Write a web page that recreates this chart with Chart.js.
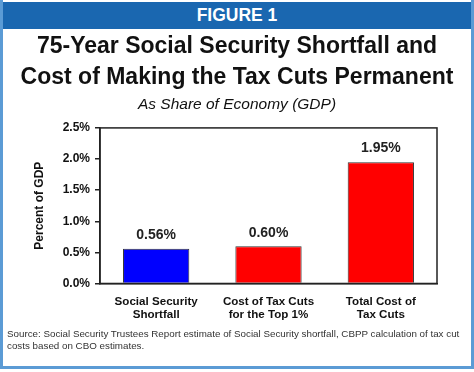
<!DOCTYPE html>
<html><head><meta charset="utf-8">
<script src="https://cdn.jsdelivr.net/npm/chart.js@4"></script>
<style>
html,body{margin:0;padding:0;background:#fff;}
#wrap{position:relative;width:474px;height:372px;overflow:hidden;background:#fff;font-family:"Liberation Sans",Arial,sans-serif;}
#frame{position:absolute;left:0;top:0;width:468px;height:366px;border:3px solid #5b9bd5;border-top:none;box-sizing:content-box;pointer-events:none;}
#head{position:absolute;left:0;top:2px;width:474px;height:27px;background:#1a67b0;color:#fff;font-weight:bold;font-size:17.5px;line-height:27px;text-align:center;}
#src{position:absolute;left:7px;top:328px;width:464px;font-size:9.8px;line-height:12px;color:#333;}
canvas{position:absolute;left:0;top:0;}
</style></head>
<body><div id="wrap">
<canvas id="c" width="474" height="372"></canvas>
<div id="head">FIGURE 1</div>
<div id="src">Source: Social Security Trustees Report estimate of Social Security shortfall, CBPP calculation of tax cut costs based on CBO estimates.</div>
<div id="frame"></div>
</div>
<script>
const categories = [["Social Security","Shortfall"],["Cost of Tax Cuts","for the Top 1%"],["Total Cost of","Tax Cuts"]];
const values = [0.56, 0.60, 1.95];
const valueLabels = ["0.56%","0.60%","1.95%"];
const barColors = ["#0000ff","#ff0000","#ff0000"];
const titleLines = ["75-Year Social Security Shortfall and","Cost of Making the Tax Cuts Permanent"];
const subtitleText = "As Share of Economy (GDP)";
const yTitle = "Percent of GDP";
const FONT = "'Liberation Sans', Arial, sans-serif";

const boxPlugin = {
  id:'box',
  afterDatasetsDraw(chart){
    const {ctx, chartArea:a} = chart;
    ctx.save();
    ctx.strokeStyle='#222'; ctx.lineWidth=1.5;
    ctx.strokeRect(a.left, a.top, a.right-a.left, a.bottom-a.top);
    ctx.restore();
  }
};
const labelPlugin = {
  id:'vlabels',
  afterDatasetsDraw(chart){
    const {ctx} = chart;
    const meta = chart.getDatasetMeta(0);
    ctx.save();
    ctx.font = "bold 14px " + FONT;
    ctx.fillStyle = '#222';
    ctx.textAlign='center'; ctx.textBaseline='middle';
    meta.data.forEach((bar,i)=>{ ctx.fillText(valueLabels[i], bar.x, bar.y-13.5); });
    ctx.restore();
  }
};

new Chart(document.getElementById('c'), {
  type:'bar',
  data:{labels:categories, datasets:[{data:values, backgroundColor:barColors, borderColor:'#333', borderWidth:1, barPercentage:0.59, categoryPercentage:1.0}]},
  options:{
    responsive:false, animation:false,
    layout:{padding:{left:0,right:0,top:31.5,bottom:47}},
    plugins:{
      legend:{display:false}, tooltip:{enabled:false},
      title:{display:true, text:titleLines, color:'#111', font:{family:FONT,size:23,weight:'bold',lineHeight:1.348}, padding:{top:0,bottom:0}},
      subtitle:{display:true, text:subtitleText, color:'#111', font:{family:FONT,size:15.5,style:'italic',lineHeight:1.2}, padding:{top:2.2,bottom:13.6}}
    },
    scales:{
      x:{grid:{display:false}, border:{display:true,color:'#222',width:1.5},
         ticks:{color:'#111', font:{family:FONT,size:11.6,weight:'bold',lineHeight:1.1}, padding:4, maxRotation:0}},
      y:{min:0,max:2.5, grid:{display:true,drawOnChartArea:false,drawTicks:true,tickLength:5,color:'#222',lineWidth:1.5},
         border:{display:true,color:'#222',width:1.5},
         ticks:{stepSize:0.5, color:'#111', padding:5, font:{family:FONT,size:12,weight:'bold'}, callback:v=>v.toFixed(1)+'%'},
         title:{display:true,text:yTitle,color:'#111',font:{family:FONT,size:12,weight:'bold'},padding:{top:32.8,bottom:0}},
         afterFit:s=>{s.width=100;}},
      yR:{position:'right', display:true, grid:{display:false}, border:{display:false}, ticks:{display:false},
         afterFit:s=>{s.width=37;}}
    }
  },
  plugins:[boxPlugin,labelPlugin]
});
</script>
</body></html>
